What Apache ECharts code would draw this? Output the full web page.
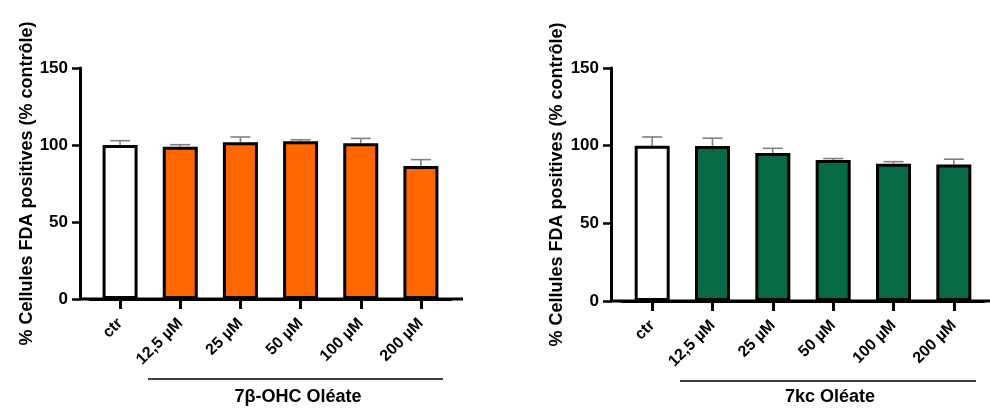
<!DOCTYPE html>
<html>
<head>
<meta charset="utf-8">
<script src="https://cdn.jsdelivr.net/npm/echarts@6/dist/echarts.min.js"></script>
<style>html,body{margin:0;padding:0;background:#fff}#c{width:990px;height:408px}</style>
</head>
<body>
<div id="c"></div>
<script>
const categories = ['ctr', '12,5 µM', '25 µM', '50 µM', '100 µM', '200 µM'];
const ohcMeans = [100, 98.9, 101.8, 102.4, 101.1, 86.4];
const ohcErr = [2.8, 1.3, 3.4, 1.0, 3.2, 4.1];
const kcMeans = [100, 99.8, 95.3, 90.8, 88.4, 87.8];
const kcErr = [5.6, 5.0, 3.0, 0.9, 1.3, 3.5];
const yTicks = { min: 0, max: 150, interval: 50 };
const yTitle = '% Cellules FDA positives (% contrôle)';
const groupLabels = ['7β-OHC Oléate', '7kc Oléate'];
const ctrlColor = '#ffffff';
const colors = ['#ff6600', '#066b45'];

const FONT = '"Liberation Sans", Arial, sans-serif';
const chart = echarts.init(document.getElementById('c'));

function barData(means, color) {
  return means.map((v, i) => ({ value: v, itemStyle: { color: i === 0 ? ctrlColor : color } }));
}
function errData(means, errs) {
  return means.map((v, i) => [i, v, errs[i]]);
}
function renderErr(params, api) {
  const i = api.value(0), m = api.value(1), e = api.value(2);
  const base = api.coord([i, m]);
  const top = api.coord([i, m + e]);
  const style = { stroke: '#808080', lineWidth: 1.6 };
  return {
    type: 'group',
    children: [
      { type: 'line', shape: { x1: base[0], y1: base[1], x2: top[0], y2: top[1] }, style },
      { type: 'line', shape: { x1: top[0] - 10, y1: top[1], x2: top[0] + 10, y2: top[1] }, style }
    ]
  };
}
function xAxisCfg(idx) {
  return {
    type: 'category', gridIndex: idx, data: categories,
    axisLine: { show: true, lineStyle: { color: '#000', width: 3 } },
    axisTick: { show: true, alignWithLabel: true, length: 10, lineStyle: { color: '#000', width: 3 } },
    axisLabel: { interval: 0, rotate: 45, fontSize: 16, fontWeight: 'bold', color: '#000', fontFamily: FONT, margin: 22 },
    splitLine: { show: false }
  };
}
function yAxisCfg(idx, offset, gap) {
  return {
    type: 'value', gridIndex: idx, min: yTicks.min, max: yTicks.max, interval: yTicks.interval,
    offset: offset,
    name: yTitle, nameLocation: 'middle', nameGap: gap, nameRotate: 90,
    nameTextStyle: { fontSize: 18, fontWeight: 'bold', color: '#000', fontFamily: FONT },
    axisLine: { show: true, lineStyle: { color: '#000', width: 3 } },
    axisTick: { show: true, length: 8, lineStyle: { color: '#000', width: 2.5 } },
    axisLabel: { fontSize: 17, fontWeight: 'bold', color: '#000', fontFamily: FONT, margin: 12 },
    splitLine: { show: false }
  };
}

const option = {
  animation: false,
  backgroundColor: '#fff',
  textStyle: { fontFamily: FONT },
  grid: [
    { left: 90, top: 68, width: 361, height: 231 },
    { left: 622, top: 68, width: 362, height: 233 }
  ],
  xAxis: [xAxisCfg(0), xAxisCfg(1)],
  yAxis: [yAxisCfg(0, 10, 40), yAxisCfg(1, 11, 45)],
  series: [
    { type: 'custom', xAxisIndex: 0, yAxisIndex: 0, renderItem: renderErr, data: errData(ohcMeans, ohcErr), z: 1 },
    { type: 'bar', xAxisIndex: 0, yAxisIndex: 0, data: barData(ohcMeans, colors[0]), barWidth: 35,
      itemStyle: { borderColor: '#000', borderWidth: 3 }, z: 2 },
    { type: 'custom', xAxisIndex: 1, yAxisIndex: 1, renderItem: renderErr, data: errData(kcMeans, kcErr), z: 1 },
    { type: 'bar', xAxisIndex: 1, yAxisIndex: 1, data: barData(kcMeans, colors[1]), barWidth: 35,
      itemStyle: { borderColor: '#000', borderWidth: 3 }, z: 2 }
  ],
  graphic: [
    { type: 'line', shape: { x1: 80, y1: 299, x2: 463, y2: 299 }, style: { stroke: '#000', lineWidth: 3 }, z: 10 },
    { type: 'line', shape: { x1: 611, y1: 301, x2: 990, y2: 301 }, style: { stroke: '#000', lineWidth: 3 }, z: 10 },
    { type: 'line', shape: { x1: 148, y1: 379, x2: 443, y2: 379 }, style: { stroke: '#000', lineWidth: 1.5 } },
    { type: 'line', shape: { x1: 680, y1: 381, x2: 976, y2: 381 }, style: { stroke: '#000', lineWidth: 1.5 } },
    { type: 'text', x: 298, y: 397, style: { text: groupLabels[0], font: 'bold 18px ' + FONT, fill: '#000', align: 'center', verticalAlign: 'middle' } },
    { type: 'text', x: 830, y: 397, style: { text: groupLabels[1], font: 'bold 18px ' + FONT, fill: '#000', align: 'center', verticalAlign: 'middle' } }
  ]
};
chart.setOption(option);
</script>
</body>
</html>
